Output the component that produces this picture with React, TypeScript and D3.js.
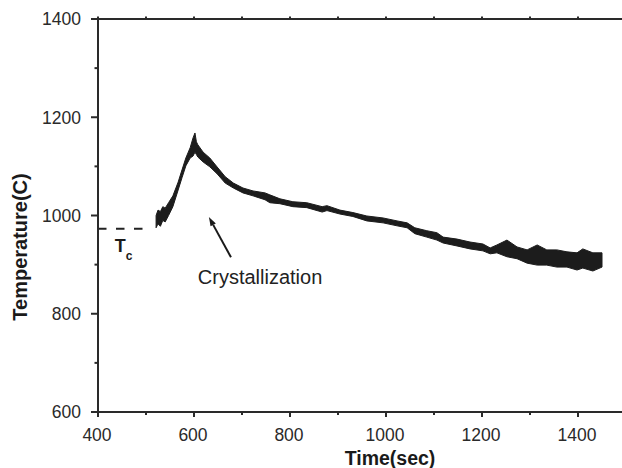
import React, { useEffect, useRef } from 'react';
import * as d3 from 'd3';

// trace: time and the lower / upper edge of the noisy band
const timeSec = [521, 525, 530, 535, 540, 547, 556, 567, 575, 583, 592, 598, 602, 605, 608, 619, 633, 648, 665, 682, 702, 723, 748, 758, 779, 806, 835, 867, 877, 904, 931, 960, 994, 1023, 1044, 1060, 1085, 1106, 1119, 1148, 1175, 1202, 1217, 1231, 1252, 1273, 1294, 1315, 1335, 1356, 1377, 1398, 1410, 1431, 1450];
const tempLow = [975, 983, 978, 990, 987, 1000, 1018, 1052, 1077, 1101, 1117, 1121, 1129, 1124, 1119, 1109, 1099, 1085, 1066, 1056, 1046, 1040, 1032, 1026, 1024, 1018, 1016, 1007, 1010, 1003, 998, 989, 985, 979, 975, 963, 956, 950, 944, 938, 932, 928, 922, 924, 916, 912, 903, 899, 899, 895, 895, 889, 893, 887, 895];
const tempHigh = [1000, 1011, 1008, 1018, 1015, 1026, 1040, 1068, 1093, 1117, 1138, 1158, 1168, 1150, 1144, 1129, 1117, 1099, 1079, 1066, 1056, 1050, 1046, 1042, 1034, 1028, 1026, 1018, 1020, 1011, 1006, 999, 995, 989, 985, 975, 969, 965, 956, 952, 946, 942, 934, 940, 950, 936, 930, 940, 930, 930, 926, 924, 932, 924, 924];

const xTicks = [400, 600, 800, 1000, 1200, 1400];
const xMinorTicks = [500, 700, 900, 1100, 1300, 1500];
const yTicks = [600, 800, 1000, 1200, 1400];
const yMinorTicks = [700, 900, 1100, 1300];

const tcTemp = 973;
const tcEndTime = 494;

const W = 622;
const H = 468;
const FONT = '"Liberation Sans", Arial, Helvetica, sans-serif';
const INK = '#2a2a2a';

function TempChart() {
    const svgRef = useRef<SVGSVGElement>(null);

    useEffect(() => {
        const svg = d3.select(svgRef.current);
        svg.selectAll('*').remove();

        const x = d3.scaleLinear().domain([400, 1500]).range([98, 626]);
        const y = d3.scaleLinear().domain([600, 1400]).range([412, 19]);

        const data = timeSec.map((t, i) => ({ t, lo: tempLow[i], hi: tempHigh[i] }));

        // noisy trace drawn as a band
        const band = d3.area<{ t: number; lo: number; hi: number }>()
            .x(d => x(d.t))
            .y0(d => y(d.lo))
            .y1(d => y(d.hi));

        svg.append('path')
            .datum(data)
            .attr('d', band)
            .attr('fill', '#1c1c1c')
            .attr('stroke', '#1c1c1c')
            .attr('stroke-width', 1)
            .attr('stroke-linejoin', 'miter');

        // Tc dashed line
        svg.append('line')
            .attr('x1', x(400)).attr('x2', x(tcEndTime))
            .attr('y1', y(tcTemp)).attr('y2', y(tcTemp))
            .attr('stroke', '#222')
            .attr('stroke-width', 2)
            .attr('stroke-dasharray', '8.5,9.5');

        // axes frame
        const axisG = svg.append('g').attr('stroke', INK).attr('stroke-width', 2);
        axisG.append('line').attr('x1', x(400)).attr('x2', x(400)).attr('y1', y(600) + 1).attr('y2', y(1400) - 1);
        axisG.append('line').attr('x1', x(400) - 1).attr('x2', W).attr('y1', y(600)).attr('y2', y(600));
        axisG.append('line').attr('x1', x(400) - 1).attr('x2', W).attr('y1', y(1400)).attr('y2', y(1400));

        // x ticks (bottom outward, top outward small)
        axisG.selectAll('.xt').data(xTicks).enter().append('line')
            .attr('x1', d => x(d)).attr('x2', d => x(d))
            .attr('y1', y(600)).attr('y2', y(600) + 5);
        axisG.selectAll('.xm').data(xMinorTicks).enter().append('line')
            .attr('x1', d => x(d)).attr('x2', d => x(d))
            .attr('y1', y(600)).attr('y2', y(600) + 3);
        axisG.selectAll('.xtt').data(xTicks.concat(xMinorTicks)).enter().append('line')
            .attr('x1', d => x(d)).attr('x2', d => x(d))
            .attr('y1', y(1400)).attr('y2', y(1400) - 2.5);

        // y ticks
        axisG.selectAll('.yt').data(yTicks).enter().append('line')
            .attr('x1', x(400) - 7).attr('x2', x(400))
            .attr('y1', d => y(d)).attr('y2', d => y(d));
        axisG.selectAll('.ym').data(yMinorTicks).enter().append('line')
            .attr('x1', x(400) - 3.5).attr('x2', x(400))
            .attr('y1', d => y(d)).attr('y2', d => y(d));

        // tick labels
        svg.selectAll('.xl').data(xTicks).enter().append('text')
            .attr('x', d => x(d) - 1)
            .attr('y', 441)
            .attr('text-anchor', 'middle')
            .style('font-family', FONT)
            .style('font-size', '17.5px')
            .attr('fill', INK)
            .text(d => d);

        svg.selectAll('.yl').data(yTicks).enter().append('text')
            .attr('x', 81)
            .attr('y', d => y(d) + 6.3)
            .attr('text-anchor', 'end')
            .style('font-family', FONT)
            .style('font-size', '17.5px')
            .attr('fill', INK)
            .text(d => d);

        // axis titles
        svg.append('text')
            .attr('x', 390).attr('y', 465)
            .attr('text-anchor', 'middle')
            .style('font-family', FONT)
            .style('font-size', '19.5px')
            .style('font-weight', 'bold')
            .attr('fill', '#1a1a1a')
            .text('Time(sec)');

        svg.append('text')
            .attr('transform', 'translate(27,247) rotate(-90)')
            .attr('text-anchor', 'middle')
            .style('font-family', FONT)
            .style('font-size', '20px')
            .style('font-weight', 'bold')
            .attr('fill', '#1a1a1a')
            .text('Temperature(C)');

        // Tc label
        const tc = svg.append('text')
            .attr('x', x(435)).attr('y', y(926))
            .style('font-family', FONT)
            .style('font-weight', 'bold')
            .style('font-size', '18px')
            .attr('fill', '#1a1a1a');
        tc.append('tspan').text('T');
        tc.append('tspan').attr('dy', 8).style('font-size', '12px').text('c');

        // arrow + annotation
        const ax0 = x(677), ay0 = y(915);
        const ax1 = x(631), ay1 = y(997);
        const ang = Math.atan2(ay1 - ay0, ax1 - ax0);
        const headLen = 9, headW = 3;
        const bx = ax1 - headLen * Math.cos(ang), by = ay1 - headLen * Math.sin(ang);
        svg.append('line')
            .attr('x1', ax0).attr('y1', ay0).attr('x2', bx).attr('y2', by)
            .attr('stroke', '#1a1a1a').attr('stroke-width', 2);
        svg.append('path')
            .attr('d', `M${ax1},${ay1} L${bx + headW * Math.sin(ang)},${by - headW * Math.cos(ang)} L${bx - headW * Math.sin(ang)},${by + headW * Math.cos(ang)} Z`)
            .attr('fill', '#1a1a1a');

        svg.append('text')
            .attr('x', x(608)).attr('y', y(861))
            .style('font-family', FONT)
            .style('font-size', '20px')
            .attr('fill', '#222')
            .text('Crystallization');
    }, []);

    return (
        <svg ref={svgRef} width={W} height={H}
            style={{ position: 'absolute', left: 0, top: 0, background: '#fff' }} />
    );
}

export default function App() {
    return <TempChart />;
}
